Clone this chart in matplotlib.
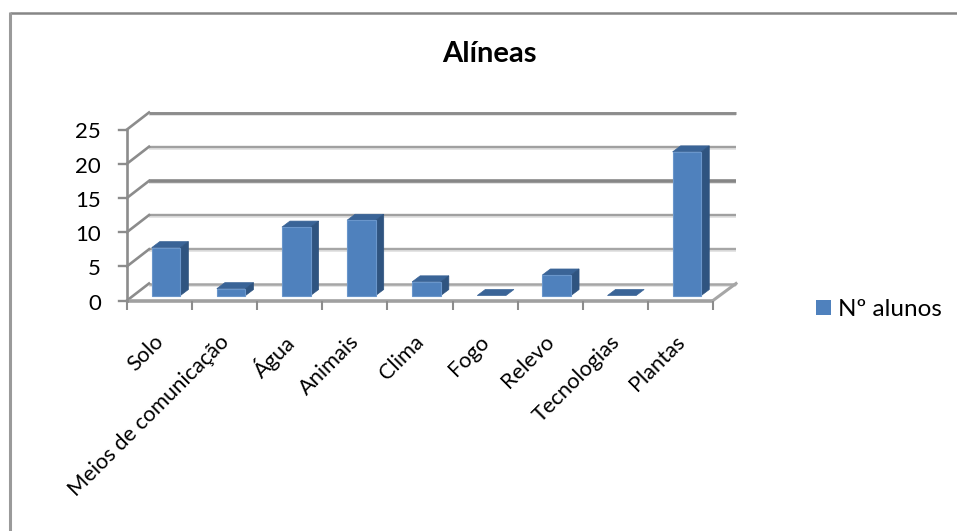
"""Alíneas: pseudo-3D column chart of Nº alunos per category."""
import matplotlib
matplotlib.use('Agg')
import matplotlib.pyplot as plt
from matplotlib.lines import Line2D
from matplotlib.patches import Polygon, Rectangle

categories = ['Solo', 'Meios de comunicação', 'Água', 'Animais', 'Clima',
              'Fogo', 'Relevo', 'Tecnologias', 'Plantas']
alunos = [7, 1, 10, 11, 2, 0, 3, 0, 21]
yticks = [0, 5, 10, 15, 20, 25]
grid_widths = [1.8, 1.7, 1.7, 2.6, 1.7, 2.1]   # heavier where the rule looks heavier
grid_colors = ['#a6a6a6', '#a6a6a6', '#a0a0a0', '#868686', '#a0a0a0', '#8c8c8c']

W, H = 957, 531
plt.rcParams['font.family'] = ['Lato', 'DejaVu Sans']
fig = plt.figure(figsize=(W / 100, H / 100), dpi=100)

# only the top and left edges of the chart frame show
fig.add_artist(Line2D([9.5 / W, 1], [1 - 13 / H, 1 - 13 / H], color='#868686', lw=1.8,
                      solid_capstyle='butt'))
fig.add_artist(Line2D([9.5 / W, 9.5 / W], [0, 1 - 12 / H], color='#9a9a9a', lw=2.2,
                      solid_capstyle='butt'))

# axes = front plane of the 3D box
L, R, T, B = 127, 713, 129.5, 300.5
ax = fig.add_axes([L / W, 1 - B / H, (R - L) / W, (B - T) / H])
ax.set_xlim(0, len(categories))
ax.set_ylim(0, 25)
ax.axis('off')

px = len(categories) / (R - L)   # x data units per pixel
py = 25 / (B - T)                # y data units per pixel
DX, DY = 22 * px, 17 * py        # depth of the box
EXT = 23 * px                    # walls run past the last category

# back wall gridlines with a faint shadow, and their return along the left side
for v, lw, col in zip(yticks, grid_widths, grid_colors):
    ax.plot([DX, 9 + EXT], [v + DY - 2 * py, v + DY - 2 * py], color='#e4e4e4', lw=1.4,
            clip_on=False, zorder=0.5, solid_capstyle='butt')
    ax.plot([DX, 9 + EXT], [v + DY, v + DY], color=col, lw=lw, clip_on=False, zorder=1,
            solid_capstyle='butt')
    ax.plot([0, DX], [v, v + DY], color='#8c8c8c', lw=1.9, clip_on=False, zorder=1)
    ax.plot([-8 * px, 0], [v, v], color='#8c8c8c', lw=1.7, clip_on=False, zorder=2)

# floor edges
ax.plot([0, 9], [0, 0], color='#a0a0a0', lw=2.6, clip_on=False, zorder=2, solid_capstyle='butt')
ax.plot([9, 9 + EXT], [0, DY], color='#a6a6a6', lw=2.2, clip_on=False, zorder=2)
ax.plot([0, 0], [0, 25], color='#8c8c8c', lw=1.9, clip_on=False, zorder=2)
for i in range(len(categories) + 1):
    ax.plot([i, i], [0, -9 * py], color='#8c8c8c', lw=1.5, clip_on=False, zorder=2,
            solid_capstyle='butt')

# columns, each one a front face, a top and a side
BW = 0.44
OX, OY = 6.5 * px, 5 * py        # column sits a little behind the front plane
SX, SY = 8 * px, 6 * py          # column depth
for i, v in enumerate(alunos):
    x0 = i + 0.5 - BW / 2 + OX
    x1 = x0 + BW
    y0 = OY
    y1 = OY + v
    ax.add_patch(Polygon([(x0, y1), (x1, y1), (x1 + SX, y1 + SY), (x0 + SX, y1 + SY)],
                         facecolor='#3a6497', edgecolor='#3a6497', lw=0.5, clip_on=False, zorder=4))
    if v > 0:
        ax.add_patch(Polygon([(x1, y0), (x1, y1), (x1 + SX, y1 + SY), (x1 + SX, y0 + SY)],
                             facecolor='#2f5480', edgecolor='#2f5480', lw=0.5, clip_on=False, zorder=4))
        ax.add_patch(Rectangle((x0, y0), BW, v, facecolor='#4f81bd', edgecolor='#6a96cb',
                               lw=0.8, clip_on=False, zorder=5))

# value axis labels
for v in yticks:
    ax.text(-26 * px, v - 3 * py, str(v), ha='right', va='center', fontsize=16, color='black',
            clip_on=False)

# category labels rotated 45 degrees, anchored under their tick slot
for i, c in enumerate(categories):
    ax.annotate(c, xy=(i + 0.5, 0), xytext=(1, -38), textcoords='offset pixels',
                rotation=45, rotation_mode='anchor', ha='right', va='center',
                fontsize=15.7, color='black', annotation_clip=False)

fig.text(489 / W, 1 - 54 / H, 'Alíneas', ha='center', va='center', fontsize=21,
         fontweight='bold', color='black')

# legend
fig.add_artist(Rectangle((816 / W, 1 - 315 / H), 15 / W, 15 / H, transform=fig.transFigure,
                         facecolor='#4f81bd', edgecolor='none'))
fig.text(838 / W, 1 - 310 / H, 'Nº alunos', ha='left', va='center', fontsize=17.5, color='black')

fig.savefig('out.png', dpi=100)
